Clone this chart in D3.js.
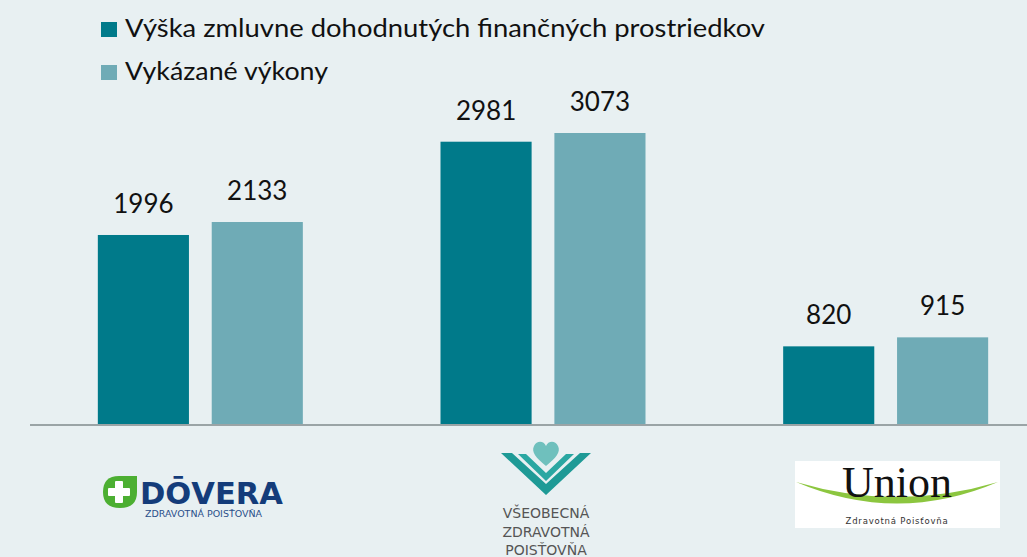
<!DOCTYPE html>
<html><head><meta charset="utf-8">
<script src="https://cdn.jsdelivr.net/npm/d3@7/dist/d3.min.js"></script>
<style>html,body{margin:0;padding:0;background:#E8F0F2;}svg{display:block;}</style>
</head><body>
<svg id="c" width="1027" height="557"></svg>
<script>
const categories = ["Dôvera", "VšZP", "Union"];
const seriesNames = ["Výška zmluvne dohodnutých finančných prostriedkov", "Vykázané výkony"];
const contracted = [1996, 2981, 820];
const reported = [2133, 3073, 915];
const colors = ["#007A8A", "#6FABB6"];

const svg = d3.select("#c");
const W = 1027, H = 557;
svg.append("rect").attr("width", W).attr("height", H).attr("fill", "#E8F0F2");

const baseY = 424;
const x = d3.scaleBand().domain(categories).range([29, 1057]).paddingInner(0).paddingOuter(0);
const y = d3.scaleLinear().domain([0, 3073]).range([baseY, 133]);
const inner = d3.scaleBand().domain([0, 1]).range([0, 205]).paddingInner(0.2).paddingOuter(0);
const font = "Lato, 'Open Sans', sans-serif";

const series = [contracted, reported];
series.forEach((vals, si) => {
  const g = svg.append("g");
  categories.forEach((c, i) => {
    const cx = x(c) + x.bandwidth() / 2 - 102.5 + inner(si);
    g.append("rect").attr("x", cx).attr("y", y(vals[i])).attr("width", inner.bandwidth())
      .attr("height", baseY - y(vals[i])).attr("fill", colors[si]);
    g.append("text").attr("x", cx + inner.bandwidth() / 2).attr("y", y(vals[i]) - 22)
      .attr("text-anchor", "middle").attr("font-family", font).attr("font-size", 26)
      .attr("fill", "#111").text(vals[i]);
  });
});

// baseline
svg.append("line").attr("x1", 30).attr("x2", W).attr("y1", baseY + 1).attr("y2", baseY + 1)
  .attr("stroke", "#9AA4A6").attr("stroke-width", 2);

// legend
const legendLens = [640, 203];
seriesNames.forEach((n, i) => {
  const ly = 37 + i * 43;
  svg.append("rect").attr("x", 101).attr("y", ly - 15).attr("width", 16).attr("height", 15).attr("fill", colors[i]);
  svg.append("text").attr("x", 125).attr("y", ly).attr("font-family", font).attr("font-size", 25.5)
    .attr("fill", "#111").attr("textLength", legendLens[i]).attr("lengthAdjust", "spacingAndGlyphs").text(n);
});

// Logo: Dôvera
const dv = svg.append("g");
dv.append("path").attr("d", "M103,492 Q103,476 119,476 L137,476 L137,492 Q137,508 120,508 Q103,508 103,492 Z").attr("fill", "#4CAF32");
dv.append("rect").attr("x", 115).attr("y", 481).attr("width", 8).attr("height", 22).attr("fill", "#fff").attr("rx", 1);
dv.append("rect").attr("x", 108).attr("y", 488).attr("width", 22).attr("height", 8).attr("fill", "#fff").attr("rx", 1);
dv.append("text").attr("x", 140).attr("y", 504).attr("font-family", "'DejaVu Sans', sans-serif").attr("font-weight", "bold")
  .attr("font-size", 31).attr("fill", "#143C7A").attr("textLength", 143).attr("lengthAdjust", "spacingAndGlyphs").text("DŌVERA");
dv.append("text").attr("x", 145).attr("y", 517).attr("font-family", "'DejaVu Sans', sans-serif")
  .attr("font-size", 9).attr("fill", "#2A4F8A").attr("textLength", 117).attr("lengthAdjust", "spacingAndGlyphs").text("ZDRAVOTNÁ POISŤOVŇA");

// Logo: VšZP
const vz = svg.append("g");
vz.append("path").attr("d", "M501,453 L512,453 L546,484 L580,453 L591,453 L546,495 Z").attr("fill", "#1E9A96");
vz.append("path").attr("d", "M518,454 L526,454 L546,473 L566,454 L574,454 L546,481 Z").attr("fill", "#2AA7A2");
vz.append("path").attr("d", "M546,466 C536,458 531,452 534,446 C537,440 544,441 546,446 C548,441 555,440 558,446 C561,452 556,458 546,466 Z").attr("fill", "#6FC0BD");
["VŠEOBECNÁ", "ZDRAVOTNÁ", "POISŤOVŇA"].forEach((t, i) => {
  vz.append("text").attr("x", 546).attr("y", 518 + i * 18.5).attr("text-anchor", "middle")
    .attr("font-family", "'DejaVu Sans', sans-serif").attr("font-size", 14).attr("fill", "#555").text(t);
});

// Logo: Union
const un = svg.append("g");
un.append("rect").attr("x", 795).attr("y", 461).attr("width", 205).attr("height", 67).attr("fill", "#fff");
un.append("path").attr("d", "M796,482 Q897,525 998,482 Q897,512 796,482 Z").attr("fill", "#8CC63F");
un.append("text").attr("x", 897).attr("y", 497).attr("text-anchor", "middle").attr("font-family", "'Liberation Serif', serif")
  .attr("font-size", 44).attr("fill", "#111").text("Union");
un.append("text").attr("x", 897).attr("y", 524).attr("text-anchor", "middle").attr("font-family", "'DejaVu Sans', sans-serif")
  .attr("font-size", 8.5).attr("letter-spacing", 0.8).attr("fill", "#333").text("Zdravotná Poisťovňa");
</script>
</body></html>
